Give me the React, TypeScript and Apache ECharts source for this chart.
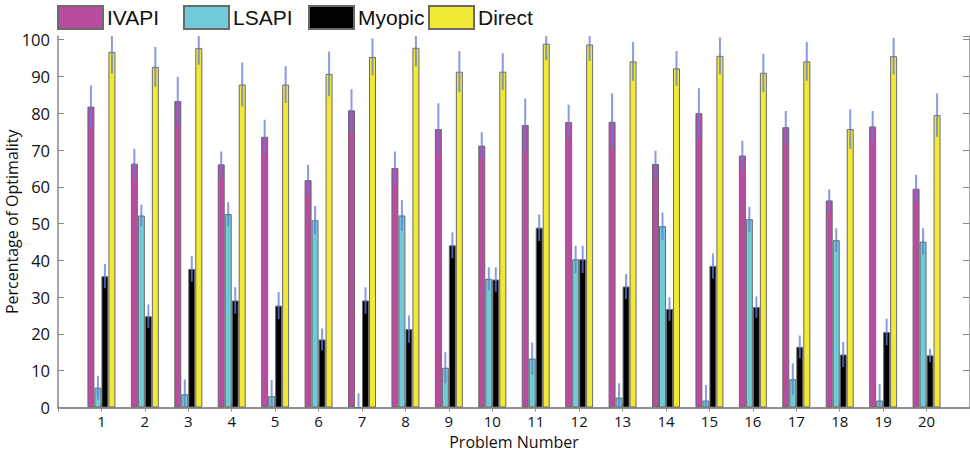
import React, { useEffect, useRef } from "react";
import * as echarts from "echarts";

const CATEGORIES = ["1","2","3","4","5","6","7","8","9","10","11","12","13","14","15","16","17","18","19","20"];
const SERIES_NAMES = ["IVAPI", "LSAPI", "Myopic", "Direct"];
const IVAPI = [81.8, 66.3, 83.3, 66.1, 73.6, 61.8, 80.8, 65.1, 75.7, 71.2, 76.8, 77.6, 77.7, 66.2, 80.0, 68.5, 76.2, 56.3, 76.4, 59.5];
const IVAPI_ERR = [5.8, 4.0, 6.6, 3.5, 4.6, 4.2, 5.7, 4.5, 7.0, 3.6, 7.2, 4.7, 7.7, 3.6, 6.8, 4.0, 4.4, 3.0, 4.2, 3.8];
const LSAPI = [5.4, 52.2, 3.6, 52.6, 3.1, 50.9, 0, 52.2, 10.8, 35.0, 13.3, 40.3, 2.7, 49.3, 1.9, 51.2, 7.7, 45.5, 1.9, 45.1];
const LSAPI_ERR = [3.2, 3.0, 4.0, 3.3, 4.4, 3.9, 3.8, 4.2, 4.2, 3.1, 4.4, 3.7, 3.9, 3.7, 4.2, 3.4, 4.3, 3.2, 4.5, 3.6];
const MYOPIC = [35.7, 24.8, 37.7, 29.1, 27.7, 18.5, 29.1, 21.3, 44.1, 34.8, 48.9, 40.3, 32.9, 26.8, 38.5, 27.3, 16.5, 14.4, 20.5, 14.2];
const MYOPIC_ERR = [3.3, 3.2, 3.5, 3.6, 3.7, 3.0, 3.6, 3.7, 3.5, 3.3, 3.6, 3.7, 3.4, 3.2, 3.4, 2.9, 3.1, 3.4, 3.6, 1.8];
const DIRECT = [96.7, 92.6, 97.7, 87.8, 87.8, 90.7, 95.3, 97.8, 91.3, 91.3, 98.9, 98.7, 94.1, 92.2, 95.6, 91.0, 94.1, 75.7, 95.5, 79.5];
const DIRECT_ERR = [5.9, 5.4, 4.5, 6.0, 5.0, 6.1, 5.0, 5.0, 5.6, 5.0, 4.5, 4.5, 5.3, 4.7, 5.0, 5.2, 5.3, 5.4, 5.0, 5.9];
const Y_TICKS = [0, 10, 20, 30, 40, 50, 60, 70, 80, 90, 100];

const COLORS = ["#b94c9f", "#6fcbd8", "#000000", "#f1e936"];
const VALUES = [IVAPI, LSAPI, MYOPIC, DIRECT];
const ERRS = [IVAPI_ERR, LSAPI_ERR, MYOPIC_ERR, DIRECT_ERR];
const LEGEND_LEFT = [57, 183, 308, 428];
const BAR_W = 7;

export default function App() {
  const ref = useRef<HTMLDivElement>(null);
  useEffect(() => {
    if (!ref.current) return;
    const chart = echarts.init(ref.current, null, { renderer: "svg" });
    const axisCats = [" ", ...CATEGORIES, "  "];
    const axisColor = "#8a8a8a";
    const barSeries = SERIES_NAMES.map((name, i) => ({
      name,
      type: "bar",
      xAxisIndex: 0,
      yAxisIndex: 0,
      barWidth: BAR_W,
      barGap: "0%",
      data: ["-", ...VALUES[i], "-"],
      itemStyle: { color: COLORS[i], borderColor: "#6a6a6a", borderWidth: 1 },
      z: 2,
    }));
    const errSeries = SERIES_NAMES.map((name, i) => ({
      name: name + " err",
      type: "custom",
      xAxisIndex: 0,
      yAxisIndex: 0,
      clip: true,
      z: 5,
      encode: { x: 0, y: [1, 2] },
      data: VALUES[i].map((v, k) => [k + 1, v - ERRS[i][k], v + ERRS[i][k]]),
      renderItem: (params: any, api: any) => {
        const x = api.value(0);
        const p1 = api.coord([x, api.value(1)]);
        const p2 = api.coord([x, api.value(2)]);
        const off = (i - 1.5) * BAR_W;
        const cx = p1[0] + off;
        return {
          type: "line",
          shape: { x1: cx, y1: p1[1], x2: cx, y2: p2[1] },
          style: { stroke: "rgba(100,120,220,0.75)", lineWidth: 2 },
        };
      },
    }));
    chart.setOption({
      animation: false,
      backgroundColor: "#ffffff",
      legend: SERIES_NAMES.map((name, i) => ({
        data: [name],
        left: LEGEND_LEFT[i],
        top: 5,
        itemWidth: 45,
        itemHeight: 23,
        padding: 0,
        selectedMode: false,
        textStyle: { fontFamily: "Liberation Sans, Arial", fontSize: 21, color: "#111", padding: [0, 0, 0, -1] },
        icon: "rect",
      })),
      grid: { left: 58, right: 0, top: 36, bottom: 44.5, outerBoundsMode: "none", containLabel: false },
      xAxis: [
        {
          type: "category",
          data: axisCats,
          boundaryGap: false,
          position: "bottom",
          axisLine: { lineStyle: { color: axisColor, width: 1.5 } },
          axisTick: { inside: true, length: 4, lineStyle: { color: axisColor } },
          axisLabel: { fontFamily: "Open Sans", fontSize: 15, color: "#111", margin: 4, interval: 0, lineHeight: 18 },
          name: "Problem Number",
          nameLocation: "middle",
          nameGap: 25,
          nameMoveOverlap: false,
          nameTextStyle: { fontFamily: "Open Sans", fontSize: 16, color: "#111", lineHeight: 18 },
        },
        {
          type: "category",
          data: axisCats,
          boundaryGap: false,
          position: "top",
          axisLine: { lineStyle: { color: axisColor, width: 1.5 } },
          axisTick: { inside: true, length: 4, lineStyle: { color: axisColor } },
          axisLabel: { show: false },
        },
      ],
      yAxis: [
        {
          type: "value",
          min: 0,
          max: 101,
          interval: 10,
          position: "left",
          splitLine: { show: false },
          axisLine: { show: true, lineStyle: { color: axisColor, width: 1.5 } },
          axisTick: { show: true, inside: true, length: 6, lineStyle: { color: axisColor } },
          axisLabel: {
            fontFamily: "Open Sans",
            fontSize: 16.5,
            color: "#111",
            margin: 8,
            showMaxLabel: false,
            formatter: (v: number) => (Y_TICKS.indexOf(v) >= 0 ? String(v) : ""),
          },
          name: "Percentage of Optimality",
          nameLocation: "middle",
          nameGap: 38,
          nameMoveOverlap: false,
          nameTextStyle: { fontFamily: "Open Sans", fontSize: 16, color: "#111" },
        },
        {
          type: "value",
          min: 0,
          max: 101,
          interval: 10,
          position: "right",
          splitLine: { show: false },
          axisLine: { show: true, lineStyle: { color: axisColor, width: 1.5 } },
          axisTick: { show: true, inside: true, length: 7, lineStyle: { color: axisColor } },
          axisLabel: { show: false },
        },
      ],
      series: [...barSeries, ...errSeries],
    });
    return () => chart.dispose();
  }, []);
  return <div ref={ref} style={{ position: "absolute", left: 0, top: 0, width: 970, height: 452 }} />;
}
